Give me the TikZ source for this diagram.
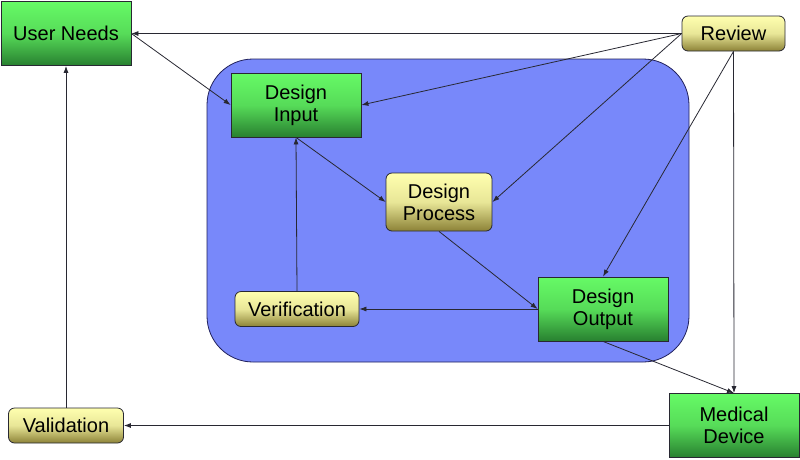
\documentclass[tikz,border=0pt]{standalone}
\usepackage{fontspec}
\setmainfont{Liberation Sans}
\usetikzlibrary{arrows.meta}
\definecolor{gtop}{RGB}{102,250,102}
\definecolor{gbot}{RGB}{40,128,48}
\definecolor{ytop}{RGB}{255,255,175}
\definecolor{ybot}{RGB}{140,130,55}
\definecolor{bluebg}{RGB}{120,136,250}
\definecolor{edge}{RGB}{40,40,50}
\tikzset{
  greenbox/.style={draw=edge, line width=0.8pt, top color=gtop, bottom color=gbot, middle color=gtop!75!gbot,
    minimum width=130pt, minimum height=64pt, inner sep=0pt, align=center,
    font=\fontsize{20}{22}\selectfont},
  yellowbox/.style={draw=edge, line width=0.8pt, rounded corners=6pt, top color=ytop, bottom color=ybot, middle color=ytop!80!ybot,
    inner sep=0pt, align=center, font=\fontsize{20}{22}\selectfont},
  conn/.style={draw=edge, line width=0.8pt, -{Latex[length=7pt,width=5pt]}},
}
\begin{document}
\begin{tikzpicture}[x=1pt,y=-1pt]
\useasboundingbox (0,0) rectangle (800,459);
\fill[bluebg, draw=edge!80!blue, line width=0.8pt, rounded corners=46pt] (207,59) rectangle (689,362);
\node[greenbox] (un) at (66,33.5) {User Needs};
\node[yellowbox, minimum width=103pt, minimum height=35pt] (rev) at (733.5,33.5) {Review};
\node[greenbox] (di) at (296,105) {Design\\Input};
\node[yellowbox, minimum width=106pt, minimum height=58pt] (dp) at (439,202) {Design\\Process};
\node[yellowbox, minimum width=124pt, minimum height=35pt] (ver) at (297,309) {Verification};
\node[greenbox] (do) at (603,309) {Design\\Output};
\node[greenbox] (md) at (734,425.5) {Medical\\Device};
\node[yellowbox, minimum width=115pt, minimum height=35pt] (val) at (66,425.5) {Validation};

\draw[conn] (rev.west) -- (un.east);
\draw[conn] (un.east) -- (di.west);
\draw[conn] (rev.west) -- (di.east);
\draw[conn] (rev.west) -- (dp.east);
\draw[conn] (rev.south) -- (do.north);
\draw[conn] (rev.south) -- (md.north);
\draw[conn] (di.south) -- (dp.west);
\draw[conn] (dp.south) -- (do.west);
\draw[conn] (do.west) -- (ver.east);
\draw[conn] (ver.north) -- (di.south);
\draw[conn] (do.south) -- (md.north);
\draw[conn] (md.west) -- (val.east);
\draw[conn] (val.north) -- (un.south);
\end{tikzpicture}
\end{document}
